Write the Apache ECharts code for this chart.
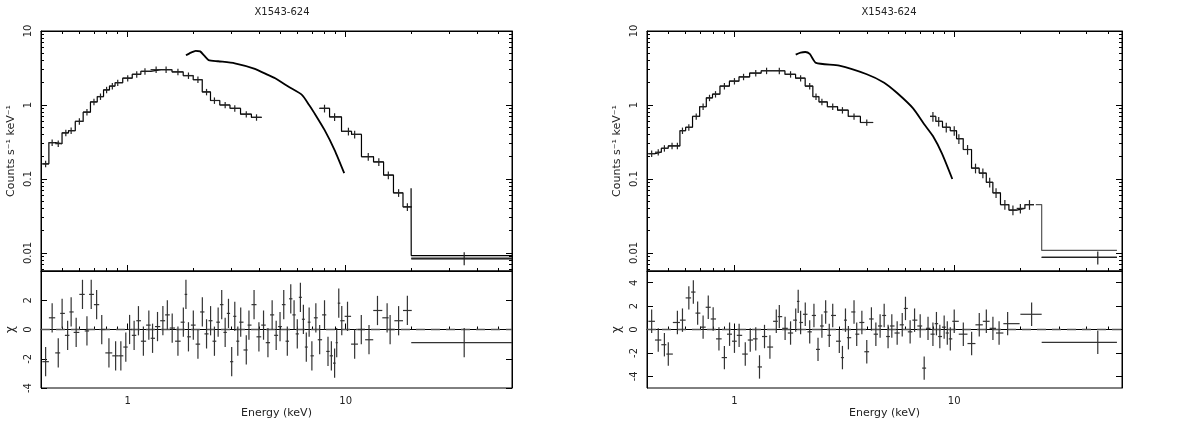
<!DOCTYPE html>
<html><head><meta charset="utf-8">
<script src="https://cdn.jsdelivr.net/npm/echarts@6/dist/echarts.min.js"></script>
<style>html,body{margin:0;background:#fff}#c{width:1195px;height:423px}</style>
</head><body><div id="c"></div>
<script>
// ---- Left panel data ----
const L_A = [[0.42,0.16],[0.45,0.31],[0.48,0.30],[0.52,0.42],[0.55,0.45],[0.6,0.6],[0.65,0.8],[0.7,1.1],[0.75,1.3],[0.8,1.6],[0.85,1.8],[0.9,2.0],[1.0,2.3],[1.1,2.6],[1.2,2.85],[1.35,3.0],[1.5,3.0],[1.7,2.8],[1.9,2.5],[2.1,2.2],[2.3,1.5],[2.5,1.15],[2.8,1.0],[3.1,0.9],[3.5,0.75],[3.9,0.68]];
const L_B = [[1.85,4.7],[1.95,5.1],[2.05,5.4],[2.15,5.3],[2.25,4.6],[2.35,4.05],[2.6,3.9],[3.1,3.66],[3.8,3.1],[4.4,2.55],[4.75,2.3],[5.5,1.75],[6.3,1.37],[6.8,1.0],[7.2,0.77],[8.0,0.46],[8.9,0.246],[9.85,0.12]];
const L_C = [[8.0,0.9],[8.9,0.69],[10.3,0.44],[11,0.4],[12.7,0.2],[14.2,0.17],[15.7,0.113],[17.5,0.065],[19.2,0.042]];
const L_D = [[35,0.0085]];
const L_D_model = [[20,0.0092],[58,0.0092]];
const L_R = [[0.42,-2.2],[0.45,0.8],[0.48,-1.6],[0.5,1.1],[0.53,-0.4],[0.55,1.2],[0.58,-0.2],[0.62,2.4],[0.65,-0.1],[0.68,2.4],[0.72,1.7],[0.76,0],[0.82,-1.6],[0.88,-1.8],[0.93,-1.8],[0.98,-1.2],[1.02,0],[1.07,-0.4],[1.12,0.6],[1.18,-0.8],[1.25,0.3],[1.3,-0.6],[1.37,0.2],[1.45,0.6],[1.52,1.0],[1.6,0.1],[1.7,-0.8],[1.8,0.5],[1.85,2.4],[1.9,-0.5],[2.0,0.3],[2.1,-1.0],[2.2,1.2],[2.3,-0.3],[2.4,0.6],[2.5,-0.8],[2.6,0.5],[2.7,1.7],[2.8,-0.2],[2.9,1.1],[3.0,-2.2],[3.1,0.9],[3.2,-0.8],[3.3,0.5],[3.5,-1.4],[3.6,0.3],[3.8,1.7],[4.0,-0.5],[4.2,0.3],[4.4,-0.9],[4.6,1.0],[4.8,-0.4],[5.0,0.2],[5.2,1.7],[5.4,-0.8],[5.6,2.1],[5.8,1.0],[6.0,-0.3],[6.2,2.2],[6.4,0.7],[6.6,-1.2],[6.8,0.5],[7.0,-1.8],[7.3,0.8],[7.6,-0.7],[8.0,1.0],[8.3,-1.5],[8.6,-1.8],[8.9,-2.3],[9.1,-0.9],[9.3,1.8],[9.6,0.6],[10.2,0.9],[11,-1.0],[11.8,0],[12.8,-0.7],[14,1.3],[15.5,0.8],[16,0.0],[17.5,0.6],[19.2,1.3]];
const L_R_wide = [[35,-0.9,20,58]];
// ---- Right panel data ----
const R_A = [[0.42,0.22],[0.45,0.23],[0.48,0.26],[0.52,0.28],[0.55,0.28],[0.58,0.45],[0.62,0.5],[0.67,0.7],[0.72,0.95],[0.77,1.25],[0.82,1.4],[0.9,1.8],[1.0,2.1],[1.1,2.4],[1.25,2.7],[1.4,2.9],[1.6,2.9],[1.8,2.6],[2.0,2.3],[2.2,1.8],[2.35,1.3],[2.5,1.1],[2.8,0.95],[3.1,0.85],[3.5,0.7],[4.0,0.58]];
const R_B = [[1.9,4.8],[2.0,5.1],[2.1,5.2],[2.2,4.9],[2.35,3.7],[3.0,3.4],[4.0,2.6],[4.8,2.0],[5.5,1.45],[6.5,0.9],[7.3,0.55],[8.0,0.38],[8.8,0.22],[9.8,0.1]];
const R_C = [[8.0,0.7],[8.5,0.6],[9.2,0.5],[10,0.45],[10.5,0.35],[11.5,0.25],[12.5,0.14],[13.5,0.12],[14.5,0.09],[15.5,0.065],[17,0.045],[18.5,0.038],[20,0.04],[22,0.045]];
const R_D = [[45,0.0087]];
const R_D_model = [[25,0.0108],[55,0.0108]];
const R_R = [[0.42,0.7],[0.45,-0.9],[0.48,-1.3],[0.5,-2.1],[0.55,0.6],[0.58,0.8],[0.62,2.7],[0.65,3.2],[0.68,1.4],[0.72,0.2],[0.76,1.9],[0.8,0.9],[0.85,-0.8],[0.9,-2.4],[0.95,-0.4],[1.0,-1.0],[1.05,-0.5],[1.12,-2.1],[1.18,-0.9],[1.25,-0.8],[1.3,-3.2],[1.37,-0.6],[1.45,-1.5],[1.55,0.7],[1.6,1.1],[1.7,0.1],[1.8,-0.3],[1.9,0.8],[1.95,2.4],[2.0,0.6],[2.1,1.3],[2.2,-0.2],[2.3,1.2],[2.4,-1.7],[2.5,0.3],[2.6,1.5],[2.7,-0.5],[2.8,1.2],[3.0,-1.0],[3.1,-2.4],[3.2,0.8],[3.3,-0.7],[3.5,1.5],[3.6,-0.4],[3.8,0.6],[4.0,-1.9],[4.2,0.9],[4.4,-0.4],[4.6,0.3],[4.8,1.2],[5.0,-0.6],[5.2,0.3],[5.5,-0.3],[5.8,0.4],[6.0,1.8],[6.3,-0.2],[6.6,0.8],[7.0,0.3],[7.3,-3.3],[7.6,0.1],[8.0,-0.4],[8.3,0.5],[8.6,-0.6],[9.0,0.2],[9.3,-0.3],[9.6,-0.8],[10,0.7],[11,-0.4],[12,-1.2],[13,0.4],[14,0.7],[15,0.1],[16,-0.3],[17.5,0.5],[22.5,1.3,20,25]];
const R_R_wide = [[45,-1.1,25,55]];
const TITLE = 'X1543-624';
const LEFT_RES_TICKS = [-4,-2,0,2];
const RIGHT_RES_TICKS = [-4,-2,0,2,4];

function bins(arr){
  return arr.map((p,i)=>{
    if(p.length>=4) return p;
    const prev = i>0?arr[i-1][0]:p[0]*p[0]/arr[i+1][0];
    const next = i<arr.length-1?arr[i+1][0]:p[0]*p[0]/prev;
    return [p[0],p[1],Math.sqrt(prev*p[0]),Math.sqrt(next*p[0])];
  });
}
function errSeries(xi,yi,data,yerr,rel,color){
  return {type:'custom',xAxisIndex:xi,yAxisIndex:yi,data:bins(data),silent:true,z:5,
    renderItem:(params,api)=>{
      const x=api.value(0),y=api.value(1),lo=api.value(2),hi=api.value(3);
      const ylo = rel? y*(1-yerr):y-yerr, yhi = rel? y*(1+yerr):y+yerr;
      const a=api.coord([lo,y]),b=api.coord([hi,y]),c=api.coord([x,ylo]),d=api.coord([x,yhi]);
      const st={stroke:color,lineWidth:1.2};
      return {type:'group',children:[
        {type:'line',shape:{x1:a[0],y1:a[1],x2:b[0],y2:b[1]},style:st},
        {type:'line',shape:{x1:c[0],y1:c[1],x2:d[0],y2:d[1]},style:st}]};
    }};
}
function modelSteps(xi,yi,data,color,scale){
  const b=bins(data), pts=[];
  b.forEach(p=>{pts.push([p[2],p[1]*scale]);pts.push([p[3],p[1]*scale]);});
  return {type:'line',xAxisIndex:xi,yAxisIndex:yi,data:pts,showSymbol:false,silent:true,
    lineStyle:{color:color,width:1.2},z:4};
}
function curve(xi,yi,data,color){
  return {type:'line',xAxisIndex:xi,yAxisIndex:yi,data:data,showSymbol:false,smooth:0.2,silent:true,
    lineStyle:{color:color,width:1.8},z:4};
}
const font={fontFamily:'DejaVu Sans',fontSize:10,color:'#222'};
const tick={inside:true,length:6,lineStyle:{color:'#000'}};
const minor={show:true,splitNumber:9,length:3,lineStyle:{color:'#000'}};
function xAx(gi,labels,name,pos){
  return {type:'log',gridIndex:gi,min:0.4,max:58,logBase:10,position:pos||'bottom',
    axisLine:{lineStyle:{color:'#000'}},axisTick:tick,minorTick:minor,splitLine:{show:false},
    axisLabel:Object.assign({show:labels,showMinLabel:false,showMaxLabel:false,formatter:v=>String(Math.round(v))},font),
    name:name||'',nameLocation:'middle',nameGap:20,nameTextStyle:Object.assign({},font,{fontSize:11})};
}
function yLog(gi,pos){
  const r = pos==='right';
  return {type:'log',gridIndex:gi,min:0.0057,max:10,position:pos||'left',
    axisLine:{lineStyle:{color:'#000'}},axisTick:tick,minorTick:minor,splitLine:{show:false},
    axisLabel:Object.assign({show:!r,rotate:90,formatter:v=>v>=1?String(v):String(+v.toPrecision(1))},font),
    name:r?'':'Counts s\u207B\u00B9 keV\u207B\u00B9',nameLocation:'middle',nameGap:24,nameTextStyle:Object.assign({},font,{fontSize:11})};
}
function yRes(gi,m,ticks,pos){
  const r = pos==='right';
  return {type:'value',gridIndex:gi,min:-m,max:m,position:pos||'left',
    axisLine:{lineStyle:{color:'#000'}},
    axisTick:Object.assign({customValues:ticks},tick),
    splitLine:{show:false},
    axisLabel:Object.assign({show:!r,rotate:90,customValues:ticks},font),
    name:r?'':'\u03C7',nameLocation:'middle',nameGap:24,nameTextStyle:Object.assign({},font,{fontSize:12})};
}
function zero(xi,yi){
  return {type:'line',xAxisIndex:xi,yAxisIndex:yi,data:[[0.4,0],[58,0]],showSymbol:false,silent:true,
    lineStyle:{color:'#555',width:1.5,type:[9,6]},z:3};
}
const series=[
  errSeries(0,0,L_A,0.1,true,'#222'), modelSteps(0,0,L_A,'#000',1.0),
  curve(0,0,L_B,'#000'), errSeries(0,0,L_C,0.12,true,'#222'), modelSteps(0,0,L_C,'#000',1.0),
  errSeries(0,0,L_D.map(p=>[p[0],p[1],20,58]),0.2,true,'#222'),
  {type:'line',xAxisIndex:0,yAxisIndex:0,data:[[19.2*1.04,0.075],[20,0.075],[20,L_D_model[0][1]],[58,L_D_model[1][1]]],showSymbol:false,lineStyle:{color:'#000',width:1.2}},
  {type:'line',xAxisIndex:0,yAxisIndex:0,data:[[20,0.0083],[58,0.0083]],showSymbol:false,lineStyle:{color:'#000',width:1.2}},
  zero(1,1), errSeries(1,1,L_R,1.0,false,'#333'), errSeries(1,1,L_R_wide,1.0,false,'#333'),
  errSeries(2,2,R_A,0.1,true,'#222'), modelSteps(2,2,R_A,'#000',1.0),
  curve(2,2,R_B,'#000'), errSeries(2,2,R_C,0.15,true,'#222'), modelSteps(2,2,R_C,'#000',1.0),
  errSeries(2,2,R_D.map(p=>[p[0],p[1],25,55]),0.2,true,'#222'),
  {type:'line',xAxisIndex:2,yAxisIndex:2,data:[[23.5,0.045],[25,0.045],[25,R_D_model[0][1]],[55,R_D_model[1][1]]],showSymbol:false,lineStyle:{color:'#555',width:1.2}},
  {type:'line',xAxisIndex:2,yAxisIndex:2,data:[[25,0.0087],[55,0.0087]],showSymbol:false,lineStyle:{color:'#000',width:1.2}},
  zero(3,3), errSeries(3,3,R_R,1.0,false,'#333'), errSeries(3,3,R_R_wide,1.0,false,'#333')
];
const chart=echarts.init(document.getElementById('c'),null,{renderer:'canvas'});
chart.setOption({
  animation:false,backgroundColor:'#fff',
  title:[{text:TITLE,left:277,top:2,textAlign:'center',textStyle:Object.assign({},font,{fontWeight:'normal'})},
         {text:TITLE,left:884,top:2,textAlign:'center',textStyle:Object.assign({},font,{fontWeight:'normal'})}],
  grid:[{left:41,top:31,width:471,height:240,show:true,borderColor:'#000',borderWidth:1},
        {left:41,top:271,width:471,height:117,show:true,borderColor:'#000',borderWidth:1},
        {left:647,top:31,width:475,height:240,show:true,borderColor:'#000',borderWidth:1},
        {left:647,top:271,width:475,height:117,show:true,borderColor:'#000',borderWidth:1}],
  xAxis:[xAx(0,false),xAx(1,true,'Energy (keV)'),xAx(2,false),xAx(3,true,'Energy (keV)'),
         xAx(0,false,'','top'),xAx(2,false,'','top')],
  yAxis:[yLog(0),yRes(1,4,LEFT_RES_TICKS),yLog(2),yRes(3,5,RIGHT_RES_TICKS),
         yLog(0,'right'),yRes(1,4,LEFT_RES_TICKS,'right'),yLog(2,'right'),yRes(3,5,RIGHT_RES_TICKS,'right')],
  series:series
});
</script></body></html>
